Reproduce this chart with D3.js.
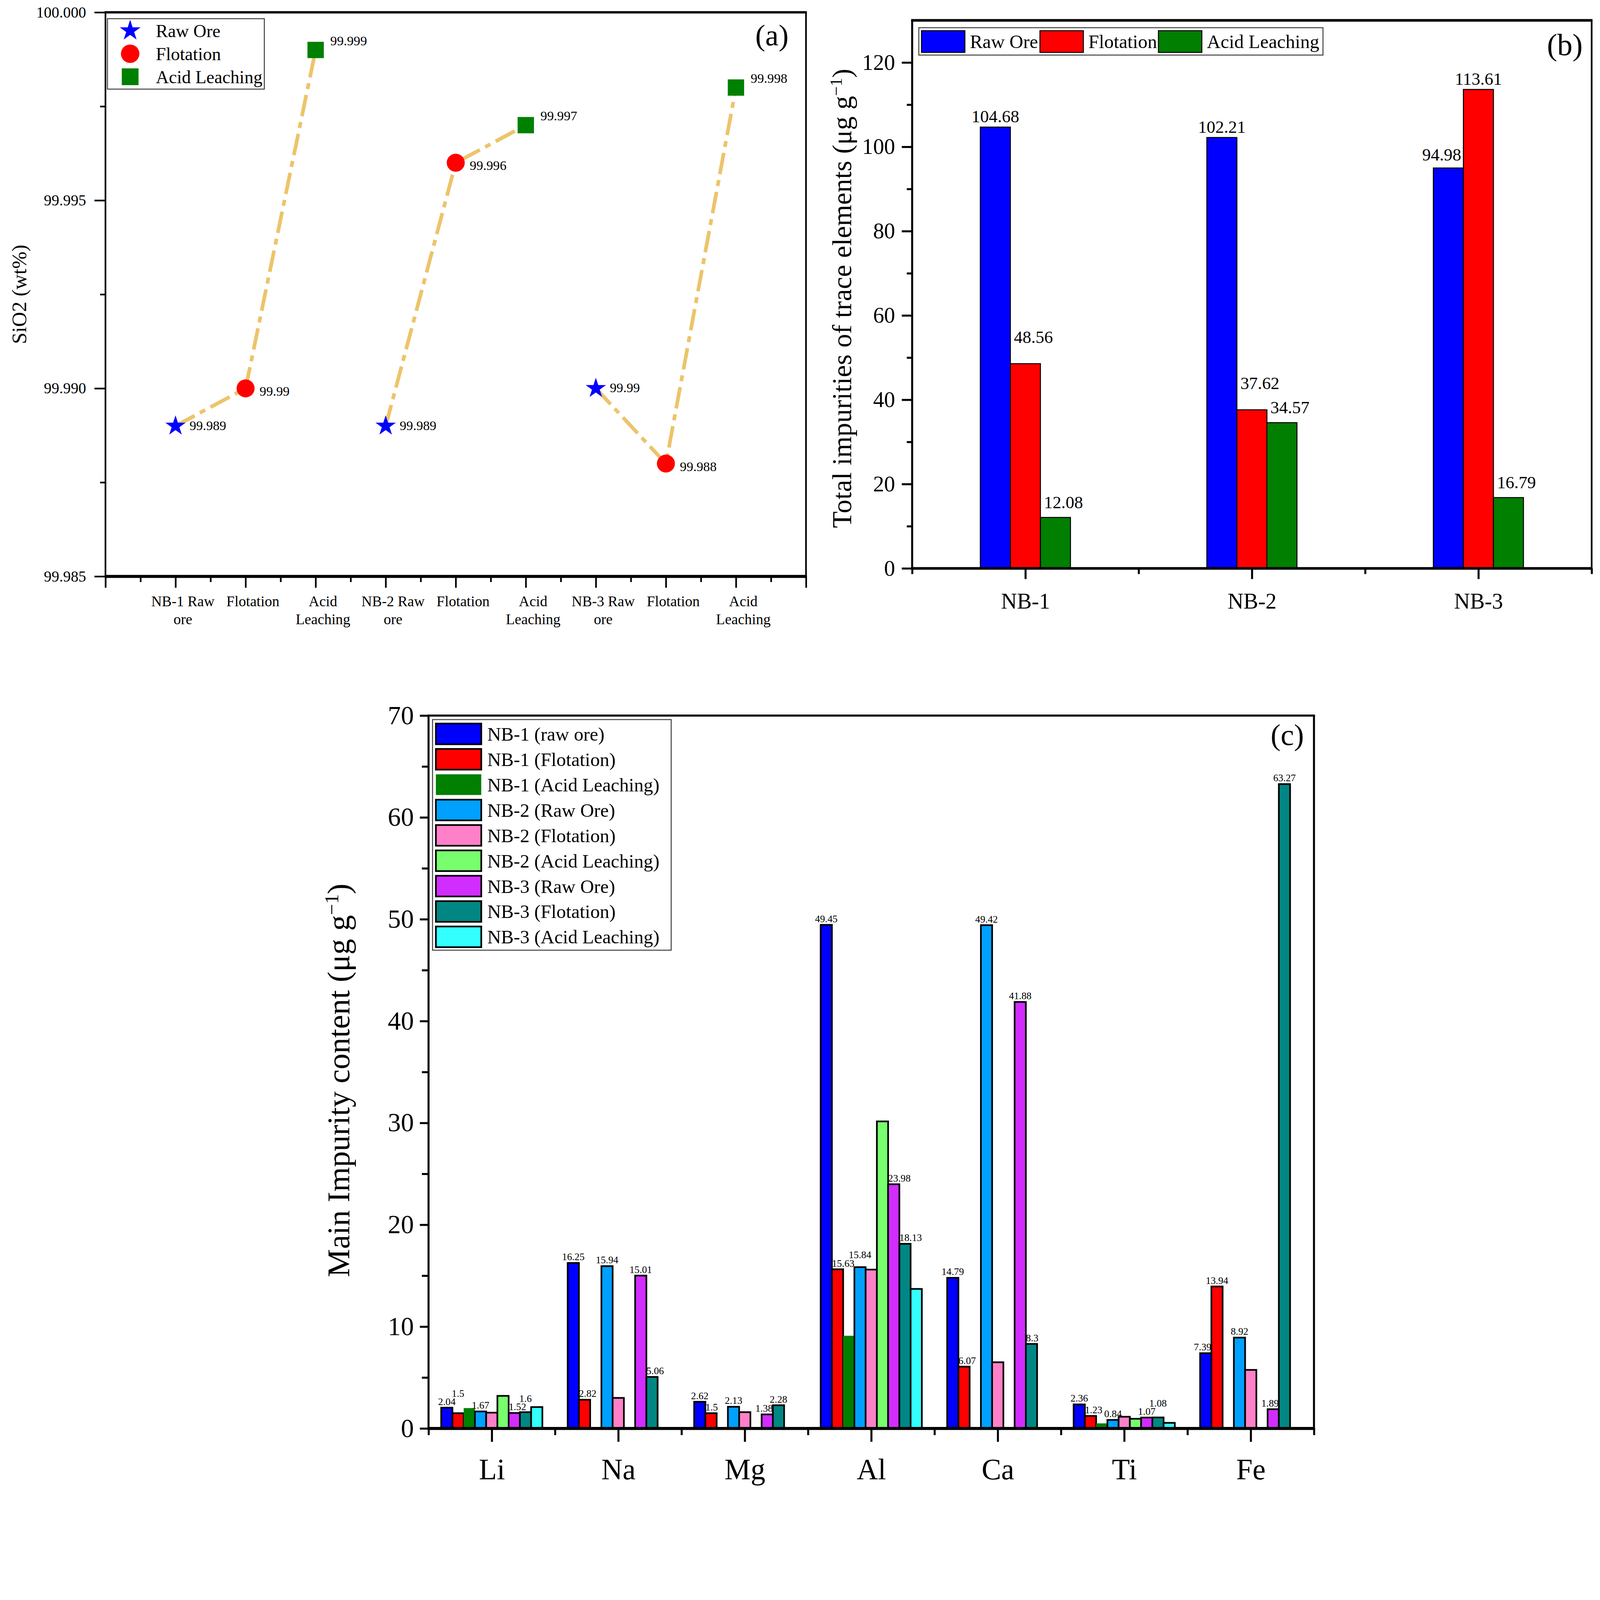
<!DOCTYPE html>
<html>
<head>
<meta charset="utf-8">
<title></title>
<script src="https://d3js.org/d3.v7.min.js" charset="utf-8"></script>
<style type="text/css">
	html, body { margin: 0; padding: 0; background: #fff; overflow: hidden; }
	svg { display: block; width: 100vw; height: 100vh; }
	svg text { font-family: 'Liberation Serif', 'Times New Roman', serif; fill: #000; }
</style>
</head>
<body>
<script type="text/javascript">
	// ---------- panel (a): SiO2 purity ----------
	const stageTicks = [['NB-1 Raw', 'ore'], ['Flotation'], ['Acid', 'Leaching'],
	                    ['NB-2 Raw', 'ore'], ['Flotation'], ['Acid', 'Leaching'],
	                    ['NB-3 Raw', 'ore'], ['Flotation'], ['Acid', 'Leaching']];
	const sio2Raw  = [99.989, 99.989, 99.99];
	const sio2Flot = [99.99, 99.996, 99.988];
	const sio2Acid = [99.999, 99.997, 99.998];
	const sio2Ticks = [99.985, 99.99, 99.995, 100.0];

	// ---------- panel (b): total impurities ----------
	const samples   = ['NB-1', 'NB-2', 'NB-3'];
	const totalRaw  = [104.68, 102.21, 94.98];
	const totalFlot = [48.56, 37.62, 113.61];
	const totalAcid = [12.08, 34.57, 16.79];
	const totalTicks = [0, 20, 40, 60, 80, 100, 120];

	// ---------- panel (c): main impurity content ----------
	const elements = ['Li', 'Na', 'Mg', 'Al', 'Ca', 'Ti', 'Fe'];
	const nb1Raw  = [2.04, 16.25, 2.62, 49.45, 14.79, 2.36, 7.39];
	const nb1Flot = [1.5, 2.82, 1.5, 15.63, 6.07, 1.23, 13.94];
	const nb1Acid = [2.0, null, null, 9.1, null, 0.5, null];
	const nb2Raw  = [1.67, 15.94, 2.13, 15.84, 49.42, 0.84, 8.92];
	const nb2Flot = [1.55, 3.0, 1.6, 15.6, 6.5, 1.15, 5.75];
	const nb2Acid = [3.2, null, null, 30.15, null, 0.95, null];
	const nb3Raw  = [1.52, 15.01, 1.38, 23.98, 41.88, 1.07, 1.89];
	const nb3Flot = [1.6, 5.06, 2.28, 18.13, 8.3, 1.08, 63.27];
	const nb3Acid = [2.1, null, null, 13.7, null, 0.55, null];
	const contentNames = ['NB-1 (raw ore)', 'NB-1 (Flotation)', 'NB-1 (Acid Leaching)',
	                      'NB-2 (Raw Ore)', 'NB-2 (Flotation)', 'NB-2 (Acid Leaching)',
	                      'NB-3 (Raw Ore)', 'NB-3 (Flotation)', 'NB-3 (Acid Leaching)'];
	const contentTicks = [0, 10, 20, 30, 40, 50, 60, 70];

	const contentSeries = [nb1Raw, nb1Flot, nb1Acid, nb2Raw, nb2Flot, nb2Acid, nb3Raw, nb3Flot, nb3Acid];
	const contentColors = ['#0000FF', '#FF0000', '#007F00', '#00A0FF', '#FF80C8', '#78FF6E', '#D22DFF', '#008784', '#33FFFF'];
	const labelledSeries = [0, 1, 3, 6, 7];

	const FONT = "'Liberation Serif', 'Times New Roman', serif";
	const W = 4794, H = 4467;

	const svg = d3.select('body').append('svg')
		.attr('viewBox', '0 0 ' + W + ' ' + H)
		.attr('preserveAspectRatio', 'xMinYMin meet');
	svg.append('rect').attr('width', W).attr('height', H).attr('fill', '#fff');

	function styleAxis(sel, fs, sw) {
		sel.select('.domain').remove();
		sel.attr('font-family', FONT).attr('font-size', fs);
		sel.selectAll('.tick line').attr('stroke', '#000').attr('stroke-width', sw);
		sel.selectAll('.tick text').attr('fill', '#000');
	}

	function frame(g, b, w) { // w: top, right, bottom, left
		g.append('line').attr('x1', b.l - w[3] / 2).attr('x2', b.r + w[1] / 2).attr('y1', b.t).attr('y2', b.t).attr('stroke', '#000').attr('stroke-width', w[0]);
		g.append('line').attr('x1', b.r).attr('x2', b.r).attr('y1', b.t).attr('y2', b.b).attr('stroke', '#000').attr('stroke-width', w[1]);
		g.append('line').attr('x1', b.l - w[3] / 2).attr('x2', b.r + w[1] / 2).attr('y1', b.b).attr('y2', b.b).attr('stroke', '#000').attr('stroke-width', w[2]);
		g.append('line').attr('x1', b.l).attr('x2', b.l).attr('y1', b.t).attr('y2', b.b).attr('stroke', '#000').attr('stroke-width', w[3]);
	}

	function unitLabel(g, x, y, fs, before) {
		const t = g.append('text')
			.attr('transform', 'translate(' + x + ',' + y + ') rotate(-90)')
			.attr('text-anchor', 'middle')
			.attr('font-size', fs);
		t.append('tspan').text(before + ' (\u03bcg g');
		t.append('tspan').attr('font-size', fs * 0.62).attr('baseline-shift', 'super').text('\u22121');
		t.append('tspan').text(')');
	}

	// =============== (a) ===============
	const A = {l: 316, r: 2415, t: 37, b: 1727};
	const xa = d3.scaleLinear().domain([0, 10]).range([A.l, A.r]);
	const ya = d3.scaleLinear().domain([99.985, 100]).range([A.b, A.t]);
	const gA = svg.append('g');

	gA.append('g').attr('transform', 'translate(' + A.l + ',0)')
		.call(d3.axisLeft(ya).tickValues(sio2Ticks).tickSize(33).tickPadding(25).tickFormat(d3.format('.3f')))
		.call(styleAxis, 46, 5);
	gA.append('g').attr('transform', 'translate(' + A.l + ',0)')
		.call(d3.axisLeft(ya).tickValues([99.9875, 99.9925, 99.9975]).tickSize(16).tickFormat(''))
		.call(styleAxis, 46, 5);
	gA.append('g').attr('transform', 'translate(0,' + A.b + ')')
		.call(d3.axisBottom(xa).tickValues(d3.range(0, 11)).tickSize(34).tickFormat(''))
		.call(styleAxis, 44, 5);
	gA.append('g').attr('transform', 'translate(0,' + A.b + ')')
		.call(d3.axisBottom(xa).tickValues(d3.range(0.5, 10, 1)).tickSize(17).tickFormat(''))
		.call(styleAxis, 44, 5);

	gA.selectAll('text.stage').data(stageTicks).join('text')
		.attr('class', 'stage')
		.attr('x', (d, i) => xa(i + 1) + 22)
		.attr('y', 1817)
		.attr('text-anchor', 'middle')
		.attr('font-size', 44)
		.each(function (d) {
			const t = d3.select(this);
			d.forEach((line, k) => {
				t.append('tspan').attr('x', t.attr('x')).attr('dy', k === 0 ? 0 : 53).text(line);
			});
		});

	frame(gA, A, [7, 5, 9, 5]);

	const groupsA = [0, 1, 2].map(g => [sio2Raw[g], sio2Flot[g], sio2Acid[g]].map((v, k) => ({x: 1 + g * 3 + k, v: v})));
	const lineA = d3.line().x(d => xa(d.x)).y(d => ya(d.v));
	gA.selectAll('path.link').data(groupsA).join('path')
		.attr('class', 'link')
		.attr('d', lineA)
		.attr('fill', 'none')
		.attr('stroke', '#ECC46A')
		.attr('stroke-width', 11)
		.attr('stroke-dasharray', '65 18 18 18');

	const markerSeries = [
		{name: 'Raw Ore', vals: sio2Raw, k: 0, sym: d3.symbolStar, size: 1150, color: '#0000FF', dx: 42, dy: 12},
		{name: 'Flotation', vals: sio2Flot, k: 1, sym: d3.symbolCircle, size: Math.PI * 27 * 27, color: '#FF0000', dx: 42, dy: 22},
		{name: 'Acid Leaching', vals: sio2Acid, k: 2, sym: d3.symbolSquare, size: 49 * 49, color: '#008000', dx: 44, dy: -14}
	];

	markerSeries.forEach(s => {
		const pts = s.vals.map((v, g) => ({x: 1 + g * 3 + s.k, v: v}));
		gA.selectAll(null).data(pts).join('path')
			.attr('d', d3.symbol().type(s.sym).size(s.size))
			.attr('transform', d => 'translate(' + xa(d.x) + ',' + ya(d.v) + ')')
			.attr('fill', s.color);
		gA.selectAll(null).data(pts).join('text')
			.attr('x', d => xa(d.x) + s.dx)
			.attr('y', d => ya(d.v) + s.dy)
			.attr('font-size', 40)
			.text(d => String(d.v));
	});

	// legend (a)
	gA.append('rect').attr('x', 322).attr('y', 56).attr('width', 470).attr('height', 211)
		.attr('fill', '#fff').attr('stroke', '#444').attr('stroke-width', 3);
	markerSeries.forEach((s, i) => {
		const cy = 92 + i * 69;
		gA.append('path')
			.attr('d', d3.symbol().type(s.sym).size(s.size * 1.05))
			.attr('transform', 'translate(390,' + cy + ')')
			.attr('fill', s.color);
		gA.append('text').attr('x', 467).attr('y', cy + 19).attr('font-size', 54).text(s.name);
	});
	gA.append('text').attr('x', 2263).attr('y', 136).attr('font-size', 90).text('(a)');
	gA.append('text')
		.attr('transform', 'translate(78,882) rotate(-90)')
		.attr('text-anchor', 'middle')
		.attr('font-size', 62)
		.text('SiO2 (wt%)');

	// =============== (b) ===============
	const B = {l: 2733, r: 4769, t: 61, b: 1703};
	const xb = d3.scaleLinear().domain([0.5, 3.5]).range([B.l, B.r]);
	const yb = d3.scaleLinear().domain([0, 130]).range([B.b, B.t]);
	const gB = svg.append('g');

	gB.append('g').attr('transform', 'translate(' + B.l + ',0)')
		.call(d3.axisLeft(yb).tickValues(totalTicks).tickSize(31).tickPadding(20))
		.call(styleAxis, 66, 6);
	gB.append('g').attr('transform', 'translate(' + B.l + ',0)')
		.call(d3.axisLeft(yb).tickValues([10, 30, 50, 70, 90, 110]).tickSize(16).tickFormat(''))
		.call(styleAxis, 66, 6);
	gB.append('g').attr('transform', 'translate(0,' + B.b + ')')
		.call(d3.axisBottom(xb).tickValues([1, 2, 3]).tickSize(32).tickPadding(42).tickFormat((d, i) => samples[i]))
		.call(styleAxis, 66, 6);
	gB.append('g').attr('transform', 'translate(0,' + B.b + ')')
		.call(d3.axisBottom(xb).tickValues([0.5, 1.5, 2.5, 3.5]).tickSize(17).tickFormat(''))
		.call(styleAxis, 66, 6);

	// lift: how far a label rises when it leans away from a taller neighbour
	const totalSeries = [
		{name: 'Raw Ore', vals: totalRaw, color: '#0000FF', lift: 22},
		{name: 'Flotation', vals: totalFlot, color: '#FF0000', lift: 62},
		{name: 'Acid Leaching', vals: totalAcid, color: '#007F00', lift: 28}
	];
	const bwB = 0.1326;
	totalSeries.forEach((s, k) => {
		gB.selectAll(null).data(s.vals).join('rect')
			.attr('x', (d, i) => xb(i + 1 + (k - 1.5) * bwB))
			.attr('y', d => yb(d))
			.attr('width', xb(bwB) - xb(0))
			.attr('height', d => yb(0) - yb(d))
			.attr('fill', s.color)
			.attr('stroke', '#000')
			.attr('stroke-width', 3);
	});
	const totalAt = (k, i) => (k < 0 || k >= totalSeries.length) ? 0 : totalSeries[k].vals[i];
	totalSeries.forEach((s, k) => {
		gB.selectAll(null).data(s.vals).join('text')
			.attr('x', (d, i) => {
				const cx = xb(i + 1 + (k - 1) * bwB);
				if (totalAt(k - 1, i) > d) return cx + 24;
				if (totalAt(k + 1, i) > d) return cx - 20;
				return cx;
			})
			.attr('y', (d, i) => {
				const lean = totalAt(k - 1, i) > d || totalAt(k + 1, i) > d;
				return yb(d) - (lean ? s.lift : 14);
			})
			.attr('text-anchor', 'middle')
			.attr('font-size', 52)
			.text(d => String(d));
	});

	frame(gB, B, [8, 5, 8, 6]);

	gB.append('rect').attr('x', 2753).attr('y', 83).attr('width', 1211).attr('height', 82)
		.attr('fill', '#fff').attr('stroke', '#444').attr('stroke-width', 3);
	totalSeries.forEach((s, k) => {
		const x0 = 2761 + k * 355;
		gB.append('rect').attr('x', x0).attr('y', 92).attr('width', 130).attr('height', 65)
			.attr('fill', s.color).attr('stroke', '#000').attr('stroke-width', 3);
		gB.append('text').attr('x', x0 + 145).attr('y', 144).attr('font-size', 57).text(s.name);
	});
	gB.append('text').attr('x', 4635).attr('y', 165).attr('font-size', 92).text('(b)');
	unitLabel(gB, 2550, 894, 82, 'Total impurities of trace elements');

	// =============== (c) ===============
	const C = {l: 1284, r: 3937, t: 2144, b: 4280};
	const xc = d3.scaleLinear().domain([0.5, 7.5]).range([C.l, C.r]);
	const yc = d3.scaleLinear().domain([0, 70]).range([C.b, C.t]);
	const gC = svg.append('g');

	gC.append('g').attr('transform', 'translate(' + C.l + ',0)')
		.call(d3.axisLeft(yc).tickValues(contentTicks).tickSize(26).tickPadding(18))
		.call(styleAxis, 78, 6);
	gC.append('g').attr('transform', 'translate(' + C.l + ',0)')
		.call(d3.axisLeft(yc).tickValues(d3.range(5, 70, 10)).tickSize(20).tickFormat(''))
		.call(styleAxis, 78, 6);
	gC.append('g').attr('transform', 'translate(0,' + C.b + ')')
		.call(d3.axisBottom(xc).tickValues(d3.range(1, 8)).tickSize(40).tickPadding(50).tickFormat((d, i) => elements[i]))
		.call(styleAxis, 88, 6);
	gC.append('g').attr('transform', 'translate(0,' + C.b + ')')
		.call(d3.axisBottom(xc).tickValues(d3.range(0.5, 8, 1)).tickSize(20).tickFormat(''))
		.call(styleAxis, 88, 6);

	const groupW = 0.8, bwC = groupW / contentSeries.length;
	contentSeries.forEach((vals, s) => {
		const pts = vals.map((v, i) => ({v: v, i: i})).filter(d => d.v !== null);
		gC.selectAll(null).data(pts).join('rect')
			.attr('x', d => xc(d.i + 1 - groupW / 2 + s * bwC))
			.attr('y', d => yc(d.v))
			.attr('width', xc(bwC) - xc(0))
			.attr('height', d => yc(0) - yc(d.v))
			.attr('fill', contentColors[s])
			.attr('stroke', s === 2 ? 'none' : '#000')
			.attr('stroke-width', 5);
	});

	// value labels: lean away from a taller neighbour, lift when two labels collide
	const placed = elements.map(() => []);
	const fsC = 30;
	const valAt = (s, i) => (s < 0 || s >= contentSeries.length || contentSeries[s][i] === null) ? 0 : contentSeries[s][i];
	labelledSeries.forEach(s => {
		contentSeries[s].forEach((v, i) => {
			if (v === null) return;
			const left = xc(i + 1 - groupW / 2 + s * bwC);
			const right = xc(i + 1 - groupW / 2 + (s + 1) * bwC);
			let anchor = 'middle', x = (left + right) / 2;
			if (valAt(s - 1, i) > v + 0.6) { anchor = 'start'; x = left; }
			else if (valAt(s + 1, i) > v + 0.6) { anchor = 'end'; x = right; }
			const t = gC.append('text')
				.attr('x', x)
				.attr('text-anchor', anchor)
				.attr('font-size', fsC)
				.text(String(v));
			const w = t.node().getComputedTextLength();
			const x1 = anchor === 'start' ? x : anchor === 'end' ? x - w : x - w / 2;
			const x2 = x1 + w;
			let base = yc(v) - 8;
			let moved = true;
			while (moved) {
				moved = false;
				placed[i].forEach(p => {
					const top = base - fsC * 0.72;
					if (x1 < p.x2 && x2 > p.x1 && top < p.bottom && base > p.top) {
						base = p.top - 3;
						moved = true;
					}
				});
			}
			t.attr('y', base);
			placed[i].push({x1: x1, x2: x2, top: base - fsC * 0.72, bottom: base});
		});
	});

	frame(gC, C, [6, 6, 9, 6]);

	gC.append('rect').attr('x', 1296).attr('y', 2156).attr('width', 715).attr('height', 691)
		.attr('fill', '#fff').attr('stroke', '#444').attr('stroke-width', 3);
	contentNames.forEach((name, k) => {
		const cy = 2199 + k * 76;
		gC.append('rect').attr('x', 1306).attr('y', cy - 31).attr('width', 136).attr('height', 62)
			.attr('fill', contentColors[k])
			.attr('stroke', k === 2 ? 'none' : '#000')
			.attr('stroke-width', 5);
		gC.append('text').attr('x', 1460).attr('y', cy + 20).attr('font-size', 57).text(name);
	});
	gC.append('text').attr('x', 3907).attr('y', 2232).attr('text-anchor', 'end').attr('font-size', 90).text('(c)');
	unitLabel(gC, 1046, 3237, 95, 'Main Impurity content');
</script>
</body>
</html>
